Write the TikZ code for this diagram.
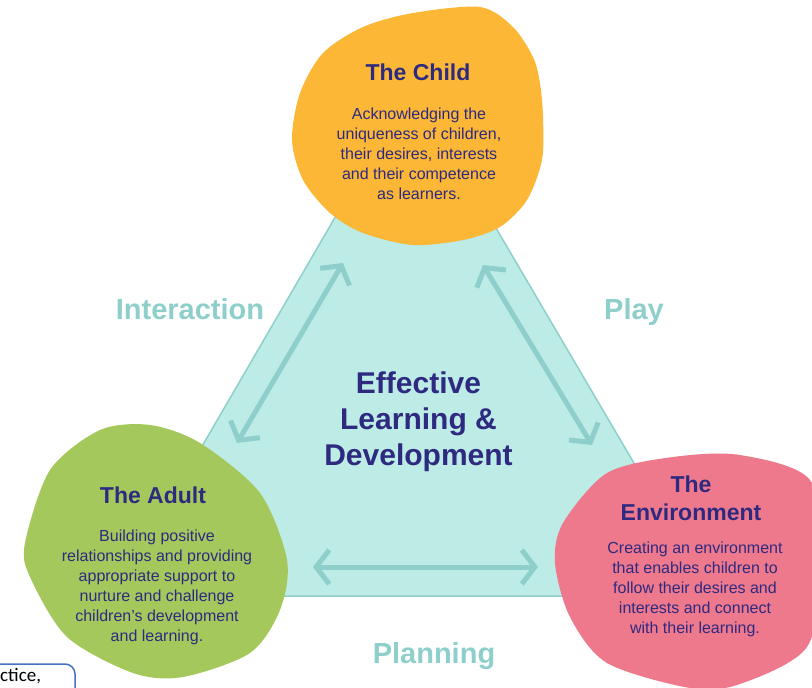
\documentclass[tikz,border=0pt]{standalone}
\usepackage{fontspec}
\setmainfont{Liberation Sans}
\newfontfamily\boxfont{Carlito}
\usetikzlibrary{arrows.meta}
\definecolor{childorange}{HTML}{FBB735}
\definecolor{adultgreen}{HTML}{A5C85D}
\definecolor{envpink}{HTML}{EE788C}
\definecolor{trifill}{HTML}{BDEBE6}
\definecolor{linkteal}{HTML}{8ECFCB}
\definecolor{ink}{HTML}{2E2A80}
\definecolor{boxblue}{HTML}{4472C4}
\tikzset{
  title/.style={font=\bfseries\fontsize{23}{28}\selectfont, text=ink, inner sep=0, anchor=base},
  body/.style={font=\fontsize{16}{20}\selectfont, text=ink, align=center, inner sep=0},
  link/.style={draw=linkteal, line width=5pt, line cap=round, <->, >={Straight Barb[length=13pt,width=34pt]}},
  linklabel/.style={font=\bfseries\fontsize{29}{34}\selectfont, text=linkteal, inner sep=0, anchor=base},
}
\begin{document}
\begin{tikzpicture}[x=1pt,y=-1pt]
\useasboundingbox (0,0) rectangle (812,688);
\clip (0,0) rectangle (812,688);
\coordinate (apex) at (412,85);
\coordinate (baseL) at (115,596);
\coordinate (baseR) at (712,596);

% triangle
\fill[trifill, draw=linkteal, line width=1.5pt] (apex) -- (baseL) -- (baseR) -- cycle;

% arrow ends
\coordinate (childL) at (343,263);
\coordinate (adultT) at (237,443);
\coordinate (childR) at (483,265);
\coordinate (envT) at (592,445);
\coordinate (adultR) at (313,567);
\coordinate (envL) at (538,567);

\draw[link] (childL) -- (adultT);
\draw[link] (childR) -- (envT);
\draw[link] (adultR) -- (envL);

% blobs
\fill[childorange] plot[smooth cycle] coordinates {(480,7) (513,27) (533,57) (540,83) (543,117) (542,160) (527,200) (500,227) (463,240) (413,245) (363,233) (330,213) (303,180) (292,140) (300,93) (323,53) (363,27) (413,13)};
\fill[adultgreen] plot[smooth cycle] coordinates {(100,430) (150,425) (200,443) (260,493) (287,560) (280,610) (250,653) (183,677) (133,673) (67,637) (30,577) (25,543) (50,470)};
\fill[envpink] plot[smooth cycle] coordinates {(673,457) (740,455) (810,480) (822,563) (807,647) (740,684) (690,688) (607,663) (570,617) (555,563) (563,523) (607,473)};

% texts
\node [title](childT) at (418,80) {The Child};
\node [body](childB) at (419,154) {Acknowledging the\\uniqueness of children,\\their desires, interests\\and their competence\\as learners.};
\node [title](adultTT) at (153,503) {The Adult};
\node [body](adultB) at (157,587) {Building positive\\relationships and providing\\appropriate support to\\nurture and challenge\\children’s development\\and learning.};
\node [title](envT1) at (691,492) {The};
\node [title](envT2) at (691,520) {Environment};
\node [body](envB) at (695,589) {Creating an environment\\that enables children to\\follow their desires and\\interests and connect\\with their learning.};

\node [body, font=\bfseries\fontsize{30}{36}\selectfont](centre) at (418.5,422) {Effective\\Learning \&\\Development};

\node [linklabel](interaction) at (190,319) {Interaction};
\node [linklabel](play) at (634,319) {Play};
\node [linklabel](planning) at (434,663) {Planning};

% box fragment
\draw[boxblue, line width=1.5pt, rounded corners=10pt] (-20,664) -- (75,664) -- (75,700);
\node [anchor=base west, inner sep=0, font=\boxfont\fontsize{19}{23}\selectfont](boxtext) at (0,681) {ctice,};
\end{tikzpicture}
\end{document}
